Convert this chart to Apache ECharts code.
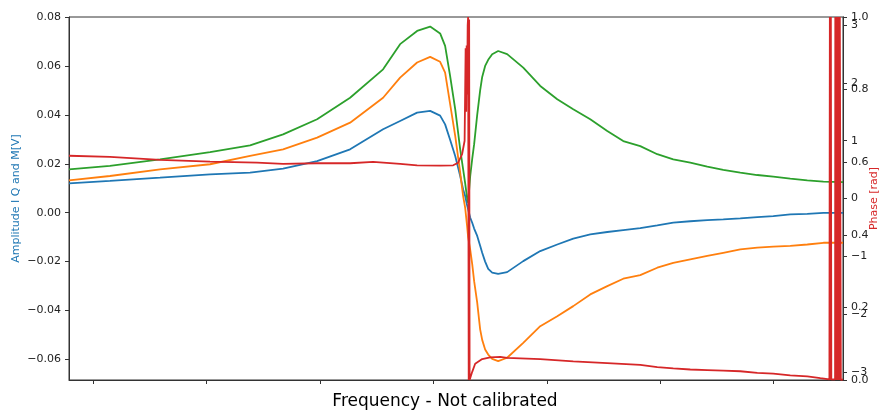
<!DOCTYPE html>
<html>
<head>
<meta charset="utf-8">
<script src="https://cdn.jsdelivr.net/npm/echarts@6/dist/echarts.min.js"></script>
<style>
html,body{margin:0;padding:0;background:#fff;}
#chart{width:879px;height:412px;}
</style>
</head>
<body>
<div id="chart"></div>
<script>
// Frequency (uncalibrated units, tick spacing 100)
const freq = [-21.4, 14.7, 58.9, 103.0, 138.3, 167.4, 197.4, 226.5, 255.6, 270.6, 285.6, 297.1, 305.9, 310.3, 314.7, 319.2, 323.6, 326.2, 328.0, 329.7, 330.6, 332.4, 334.2, 335.9, 338.6, 341.2, 343.0, 345.6, 348.3, 351.8, 357.1, 365.0, 379.2, 394.2, 409.2, 423.3, 438.3, 453.3, 467.4, 482.4, 497.4, 511.5, 526.5, 541.5, 555.6, 570.6, 585.6, 599.7, 614.7, 629.7, 643.9, 661.2];
// I (blue)
const valI = [0.0120, 0.0130, 0.0143, 0.0157, 0.0164, 0.0180, 0.0211, 0.0259, 0.0341, 0.0375, 0.0409, 0.0416, 0.0397, 0.0361, 0.0298, 0.0232, 0.0150, 0.0095, 0.0068, 0.0030, 0.0014, -0.0020, -0.0041, -0.0065, -0.0095, -0.0135, -0.0164, -0.0200, -0.0230, -0.0245, -0.0250, -0.0243, -0.0198, -0.0157, -0.0130, -0.0106, -0.0089, -0.0079, -0.0071, -0.0063, -0.0052, -0.0041, -0.0035, -0.0030, -0.0027, -0.0023, -0.0018, -0.0014, -0.0007, -0.0005, -0.0001, -0.0001];
// Q (orange)
const valQ = [0.0132, 0.0150, 0.0177, 0.0198, 0.0232, 0.0259, 0.0307, 0.0368, 0.0470, 0.0552, 0.0614, 0.0637, 0.0617, 0.0573, 0.0445, 0.0314, 0.0164, 0.0068, 0.0020, -0.0055, -0.0100, -0.0150, -0.0210, -0.0280, -0.0368, -0.0477, -0.0520, -0.0559, -0.0580, -0.0598, -0.0607, -0.0593, -0.0532, -0.0464, -0.0423, -0.0382, -0.0334, -0.0300, -0.0270, -0.0255, -0.0225, -0.0205, -0.0191, -0.0177, -0.0164, -0.0150, -0.0143, -0.0139, -0.0136, -0.0130, -0.0123, -0.0123];
// M (green)
const valM = [0.0177, 0.0191, 0.0218, 0.0248, 0.0275, 0.0320, 0.0382, 0.0470, 0.0586, 0.0689, 0.0743, 0.0761, 0.0733, 0.0682, 0.0559, 0.0423, 0.0259, 0.0177, 0.0120, 0.0060, 0.0040, 0.0148, 0.0220, 0.0280, 0.0400, 0.0500, 0.0555, 0.0600, 0.0625, 0.0648, 0.0661, 0.0648, 0.0593, 0.0518, 0.0464, 0.0423, 0.0382, 0.0334, 0.0293, 0.0272, 0.0239, 0.0218, 0.0205, 0.0188, 0.0175, 0.0164, 0.0154, 0.0147, 0.0139, 0.0132, 0.0127, 0.0125];
// Phase (red)
const phaseFreq = [-21.4, 14.7, 58.9, 103.0, 144.4, 167.4, 197.4, 226.5, 246.8, 270.6, 285.6, 305.9, 317.4, 321.8, 325.3, 327.5, 328.4, 328.9, 329.3, 329.7, 330.2, 330.6, 331.1, 331.5, 331.9, 332.7, 334.2, 336.8, 343.0, 350.0, 358.9, 365.0, 394.2, 423.3, 453.3, 482.4, 497.4, 511.5, 526.5, 541.5, 555.6, 570.6, 585.6, 599.7, 614.7, 629.7, 641.2, 649.2, 649.6, 650.0, 650.5, 650.9, 654.2, 654.4, 655.3, 655.8, 656.7, 657.1, 658.0, 658.4, 659.3, 661.2];
const phase = [0.74, 0.72, 0.67, 0.64, 0.62, 0.60, 0.61, 0.61, 0.635, 0.60, 0.575, 0.57, 0.575, 0.62, 0.77, 1.0, 2.6, 1.5, 2.65, 1.8, 3.0, 3.14, -3.14, 3.1, -3.14, -3.13, -3.0, -2.86, -2.78, -2.75, -2.74, -2.76, -2.78, -2.82, -2.85, -2.88, -2.92, -2.94, -2.96, -2.97, -2.98, -2.99, -3.02, -3.03, -3.06, -3.08, -3.11, -3.13, 3.14, -3.14, 3.14, -3.13, -3.13, 3.14, -3.14, 3.14, -3.14, 3.14, -3.14, 3.14, -3.14, -3.13];
// Tick labels
const xTicks = [0, 100, 200, 300, 400, 500, 600];
const ampTicks = [-0.06, -0.04, -0.02, 0.00, 0.02, 0.04, 0.06, 0.08];
const phaseTicks = [-3, -2, -1, 0, 1, 2, 3];

const FONT = 'DejaVu Sans';
const AX = '#333';
const minus = s => s.replace('-', '\u2212');
function pairs(xs, ys) { return xs.map((x, i) => [x, ys[i]]); }

const chart = echarts.init(document.getElementById('chart'), null, {renderer: 'canvas'});
const axisLine = {show: true, onZero: false, lineStyle: {color: AX, width: 1}};
chart.setOption({
  animation: false,
  backgroundColor: '#fff',
  grid: {left: 69, right: 36, top: 17, bottom: 32, containLabel: false, outerBoundsMode: 'none',
    show: true, borderColor: AX, borderWidth: 1, backgroundColor: 'transparent'},
  xAxis: {
    type: 'value', min: -21.4, max: 661.2,
    name: 'Frequency - Not calibrated', nameLocation: 'middle', nameGap: 13, nameMoveOverlap: false,
    nameTextStyle: {fontFamily: FONT, fontSize: 17, color: '#000', padding: [0, 22, 0, 0]},
    axisLine: axisLine,
    splitLine: {show: false},
    axisTick: {show: true, length: 4, lineStyle: {color: AX}, customValues: xTicks},
    axisLabel: {show: false}
  },
  yAxis: [
    {
      type: 'value', position: 'left', min: -0.0684, max: 0.08,
      name: 'Amplitude I Q and M[V]', nameLocation: 'middle', nameRotate: 90, nameGap: 47, nameMoveOverlap: false,
      nameTextStyle: {fontFamily: FONT, fontSize: 11, color: '#1f77b4'},
      axisLine: axisLine, splitLine: {show: false},
      axisTick: {show: true, length: 4, lineStyle: {color: AX}, customValues: ampTicks},
      axisLabel: {fontFamily: FONT, fontSize: 11, color: '#222', margin: 8, customValues: ampTicks,
        formatter: v => minus(Number(v).toFixed(2))}
    },
    {
      type: 'value', position: 'right', offset: 0, min: 0, max: 1, interval: 0.2,
      axisLine: axisLine, splitLine: {show: false},
      axisTick: {show: true, length: 4, lineStyle: {color: AX}},
      axisLabel: {fontFamily: FONT, fontSize: 11, color: '#222', margin: 8,
        formatter: v => Number(v).toFixed(1)}
    },
    {
      type: 'value', position: 'right', offset: 0, min: -Math.PI, max: Math.PI,
      name: 'Phase [rad]', nameLocation: 'middle', nameRotate: 90, nameGap: 26, nameMoveOverlap: false,
      nameTextStyle: {fontFamily: FONT, fontSize: 11, color: '#d62728'},
      axisLine: axisLine, splitLine: {show: false},
      axisTick: {show: true, length: 4, lineStyle: {color: AX}, customValues: phaseTicks},
      axisLabel: {fontFamily: FONT, fontSize: 11, color: '#222', margin: 8, customValues: phaseTicks,
        formatter: v => minus(String(Math.round(v)))}
    }
  ],
  series: [
    {name: 'I', type: 'line', yAxisIndex: 0, data: pairs(freq, valI), showSymbol: false, lineStyle: {color: '#1f77b4', width: 1.8}, itemStyle: {color: '#1f77b4'}},
    {name: 'Q', type: 'line', yAxisIndex: 0, data: pairs(freq, valQ), showSymbol: false, lineStyle: {color: '#ff7f0e', width: 1.8}, itemStyle: {color: '#ff7f0e'}},
    {name: 'M', type: 'line', yAxisIndex: 0, data: pairs(freq, valM), showSymbol: false, lineStyle: {color: '#2ca02c', width: 1.8}, itemStyle: {color: '#2ca02c'}},
    {name: 'Phase', type: 'line', yAxisIndex: 2, data: pairs(phaseFreq, phase), showSymbol: false, lineStyle: {color: '#d62728', width: 1.8}, itemStyle: {color: '#d62728'}}
  ]
});
</script>
</body>
</html>
